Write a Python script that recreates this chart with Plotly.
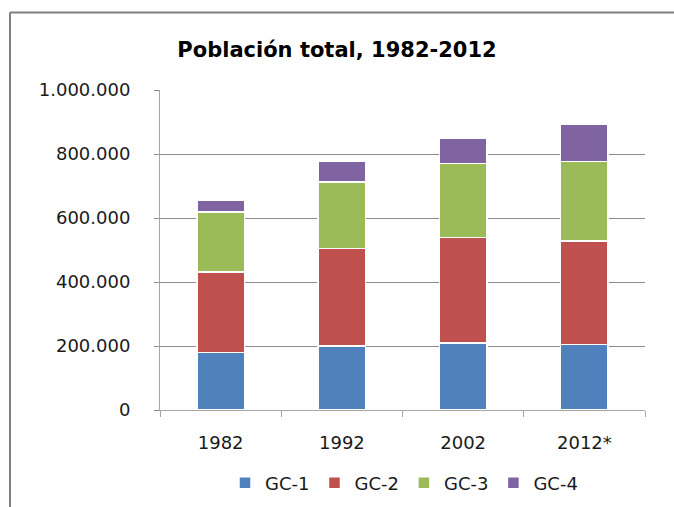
import plotly.graph_objects as go

years = ["1982", "1992", "2002", "2012*"]
gc1 = [180000, 200500, 210000, 205000]
gc2 = [250500, 304000, 329000, 323500]
gc3 = [187500, 207500, 231000, 248500]
gc4 = [37000, 66000, 79000, 116500]
series_names = ["GC-1", "GC-2", "GC-3", "GC-4"]
colors = ["#4F81BD", "#C0504D", "#9BBB59", "#8064A2"]

FONT = "DejaVu Sans, Verdana, sans-serif"

fig = go.Figure()
for name, vals, col in zip(series_names, [gc1, gc2, gc3, gc4], colors):
    fig.add_trace(go.Bar(
        x=years, y=vals, name=name,
        marker=dict(color=col, line=dict(color="white", width=1.5)),
    ))

L, R, T, B = 160, 29, 90, 97
W, H = 674, 507
pw, ph = W - L - R, H - T - B

def px2paper_x(px):
    return (px - L) / pw

def px2paper_y(py):
    return (H - B - py) / ph

fig.update_layout(
    width=W, height=H,
    barmode="stack",
    bargap=0.61,
    separators=",.",
    paper_bgcolor="white",
    plot_bgcolor="white",
    margin=dict(l=L, r=R, t=T, b=B, pad=0, autoexpand=False),
    font=dict(family=FONT, size=18, color="#1a1a1a"),
    title=dict(
        text="<b>Población total, 1982-2012</b>",
        x=0.5, xref="container", xanchor="center",
        y=1 - 50 / H, yref="container", yanchor="middle",
        font=dict(family=FONT, size=21, color="#000000"),
    ),
    showlegend=True,
    legend=dict(
        orientation="h",
        x=px2paper_x(404), xanchor="center",
        y=px2paper_y(483), yanchor="middle",
        font=dict(family=FONT, size=18, color="#1a1a1a"),
        itemwidth=30,
        traceorder="normal",
        bgcolor="rgba(0,0,0,0)",
    ),
    xaxis=dict(
        automargin=False,
        showline=True, linecolor="#A6A6A6", linewidth=1,
        ticks="outside", ticklen=6, tickcolor="#A6A6A6",
        tickson="boundaries",
        showgrid=False,
        ticklabelstandoff=16,
        tickfont=dict(family=FONT, size=18, color="#1a1a1a"),
    ),
    yaxis=dict(
        automargin=False,
        range=[0, 1000000],
        dtick=200000,
        tickformat=",d",
        showgrid=True, gridcolor="#8C8C8C", gridwidth=1,
        zeroline=False,
        showline=True, linecolor="#A6A6A6", linewidth=1,
        ticks="outside", ticklen=5, tickcolor="#8C8C8C",
        ticklabelstandoff=20,
        tickfont=dict(family=FONT, size=18, color="#1a1a1a"),
    ),
    shapes=[
        dict(type="line", xref="paper", yref="paper",
             x0=px2paper_x(10), x1=px2paper_x(10),
             y0=px2paper_y(12.5), y1=px2paper_y(530),
             line=dict(color="#808080", width=2)),
        dict(type="line", xref="paper", yref="paper",
             x0=px2paper_x(10), x1=px2paper_x(700),
             y0=px2paper_y(12.5), y1=px2paper_y(12.5),
             line=dict(color="#808080", width=2)),
    ],
)

fig.write_html("out.html", config={"displayModeBar": False},
               post_script="document.body.style.margin='0';")
